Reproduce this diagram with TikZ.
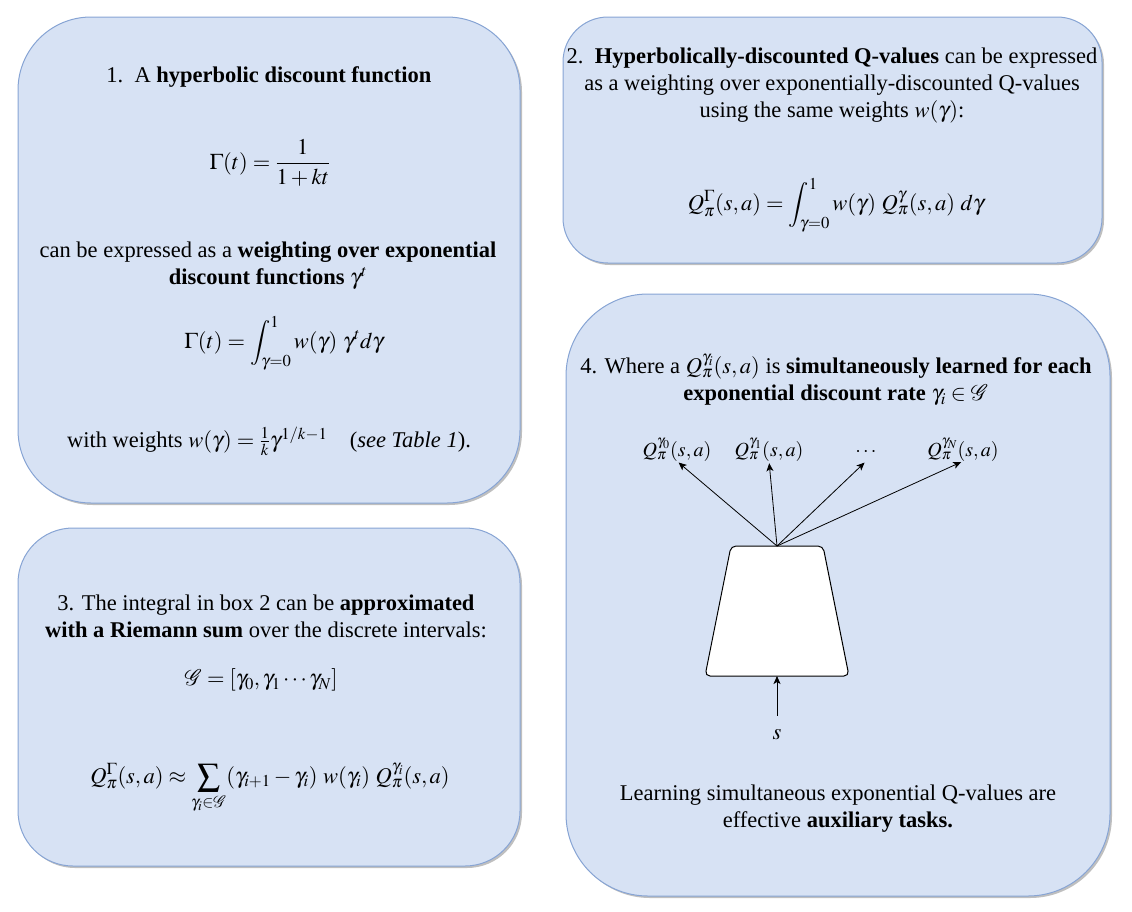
\documentclass[tikz,border=0pt]{standalone}
\usepackage{mathptmx}
\usepackage[no-math]{fontspec}
\setmainfont{Liberation Serif}
\usetikzlibrary{arrows.meta,shadows}
\definecolor{panelfill}{RGB}{215,226,244}
\definecolor{paneldraw}{RGB}{135,164,212}
\tikzset{
  panel/.style={draw=paneldraw, fill=panelfill, line width=1pt,
    drop shadow={shadow xshift=2pt, shadow yshift=-2pt, opacity=0.25, fill=black}},
  txt/.style={font=\fontsize{22.5}{27}\selectfont, align=center, inner sep=0pt},
  qlab/.style={font=\fontsize{20}{24}\selectfont, inner sep=0pt, text height=15pt, text depth=5pt},
  net/.style={draw, fill=white, line width=1pt, rounded corners=5pt},
  arr/.style={-{Stealth[length=8pt,width=7pt,inset=2pt]}, line width=0.8pt},
}
\begin{document}
\begin{tikzpicture}[x=1pt, y=-1pt]
\useasboundingbox (0,0) rectangle (1132,911);
% Boxes
\node[panel, minimum width=502pt, minimum height=486pt, rounded corners=73pt] (box1) at (269,260) {};
\node[panel, minimum width=539pt, minimum height=246pt, rounded corners=45pt] (box2) at (832.5,140) {};
\node[panel, minimum width=502pt, minimum height=338pt, rounded corners=55pt] (box3) at (269,697) {};
\node[panel, minimum width=544pt, minimum height=602pt, rounded corners=82pt] (box4) at (838,595) {};
% Box 1
\node[txt] (t1) at (269,77) {1.\ \ A \textbf{hyperbolic discount function}};
\node[txt] (f1) at (270,163) {$\displaystyle\Gamma(t) = \frac{1}{1+kt}$};
\node[txt] (t1b) at (268,266) {can be expressed as a \textbf{weighting over exponential}\\ \textbf{discount functions} $\gamma^t$};
\node[txt] (f1b) at (284,343) {$\displaystyle\Gamma(t) = \int_{\gamma=0}^{1} w(\gamma)\ \gamma^t d\gamma$};
\node[txt] (t1c) at (269,441) {with weights $w(\gamma) = \frac{1}{k}\gamma^{1/k-1}$\quad (\textit{see Table 1}).};
% Box 2
\node[txt] (t2) at (832,86) {2.\ \ \textbf{Hyperbolically-discounted Q-values} can be expressed\\ as a weighting over exponentially-discounted Q-values\\ using the same weights $w(\gamma)$:};
\node[txt] (f2) at (836,205) {$\displaystyle Q^{\Gamma}_{\pi}(s,a) = \int_{\gamma=0}^{1} w(\gamma)\ Q^{\gamma}_{\pi}(s,a)\ d\gamma$};
% Box 3
\node[txt] (t3) at (266,616) {3. The integral in box 2 can be \textbf{approximated}\\ \textbf{with a Riemann sum} over the discrete intervals:};
\node[txt] (f3) at (261,680) {$\mathcal{G} = [\gamma_0, \gamma_1 \cdots \gamma_N]$};
\node[txt] (f3b) at (270,788) {$\displaystyle Q^{\Gamma}_{\pi}(s,a) \approx \sum_{\gamma_i\in\mathcal{G}} (\gamma_{i+1}-\gamma_i)\ w(\gamma_i)\ Q^{\gamma_i}_{\pi}(s,a)$};
% Box 4
\node[txt] (t4) at (836,380) {4. Where a $Q^{\gamma_i}_{\pi}(s,a)$ is \textbf{simultaneously learned for each}\\ \textbf{exponential discount rate} $\gamma_i \in \mathcal{G}$};
\node[qlab] (q0) at (677,451) {$Q^{\gamma_0}_{\pi}(s,a)$};
\node[qlab] (q1) at (769,451) {$Q^{\gamma_1}_{\pi}(s,a)$};
\node[qlab] (qd) at (866,451) {$\cdots$};
\node[qlab] (qN) at (963,451) {$Q^{\gamma_N}_{\pi}(s,a)$};
\draw[net] (705,676) -- (731,546) -- (823,546) -- (849,676) -- cycle;
\coordinate (nettop) at (777,546);
\coordinate (netbot) at (777,676);
\node[txt] (s) at (777,735) {$s$};
\node[txt] (t4b) at (838,809) {Learning simultaneous exponential Q-values are\\ effective \textbf{auxiliary tasks.}};
% Arrows
\foreach \q in {q0,q1,qd,qN}
  \draw[arr, shorten >=2pt] (nettop) -- (\q.south);
\draw[arr, shorten <=14pt] (s.north) -- (netbot);
\end{tikzpicture}
\end{document}
